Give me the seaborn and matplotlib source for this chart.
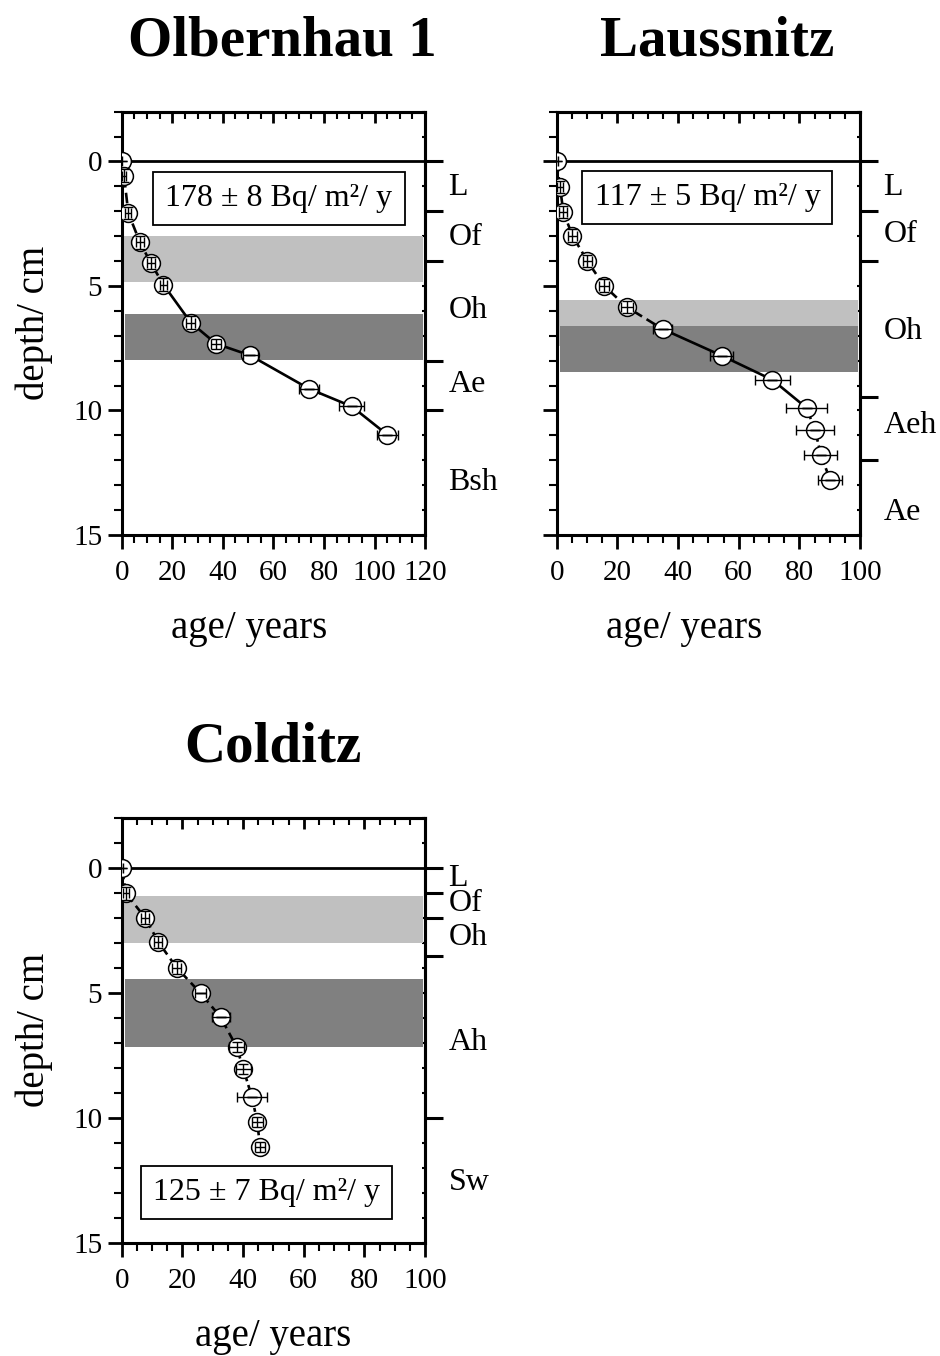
import matplotlib
matplotlib.use("Agg")
import matplotlib.pyplot as plt
from matplotlib.ticker import MultipleLocator, FixedLocator
import pandas as pd
import seaborn as sns


# Olbernhau 1
OLB_AGE = [0, 0.9, 2.6, 7.2, 11.5, 16.5, 27.3, 37.3, 50.8, 74.1, 91.0, 105.1]
OLB_DEPTH = [0, 0.57, 2.07, 3.25, 4.08, 4.95, 6.47, 7.32, 7.79, 9.13, 9.84, 10.98]
OLB_XERR = [0.3, 0.8, 1.2, 1.5, 1.5, 1.5, 1.8, 2.0, 3.0, 4.0, 5.0, 4.0]
OLB_YERR = [0, 0.25, 0.25, 0.25, 0.25, 0.25, 0.25, 0.2, 0, 0, 0, 0]
OLB_BOUNDS = [0, 2, 4, 8, 10]
OLB_HORIZONS = ["L", "Of", "Oh", "Ae", "Bsh"]
OLB_HOR_DEPTH = [1.06, 3.07, 6.0, 8.97, 12.9]
OLB_LIGHT = [3.0, 4.86]
OLB_DARK = [6.12, 7.96]

# Laussnitz
LAU_AGE = [0, 1.1, 2.2, 5.2, 10.1, 15.6, 23.1, 34.9, 54.4, 71.1, 82.4, 85.2, 87.1, 90.1]
LAU_DEPTH = [0, 1.03, 2.03, 2.98, 4.0, 4.99, 5.85, 6.73, 7.8, 8.77, 9.9, 10.8, 11.78, 12.78]
LAU_XERR = [0.3, 1.0, 1.3, 1.5, 1.5, 1.5, 2.0, 3.0, 3.8, 5.7, 6.7, 6.2, 5.4, 3.8]
LAU_YERR = [0, 0.25, 0.25, 0.25, 0.25, 0.25, 0.25, 0, 0, 0, 0, 0, 0, 0]
LAU_BOUNDS = [0, 2, 4, 9.45, 12]
LAU_HORIZONS = ["L", "Of", "Oh", "Aeh", "Ae"]
LAU_HOR_DEPTH = [1.06, 2.95, 6.85, 10.6, 14.1]
LAU_LIGHT = [5.55, 7.4]
LAU_DARK = [6.6, 8.47]

# Colditz
COL_AGE = [0, 1.4, 7.7, 12.1, 18.1, 26.0, 32.6, 37.9, 40.1, 42.9, 44.7, 45.6]
COL_DEPTH = [0, 1.03, 2.0, 2.98, 4.0, 5.02, 5.98, 7.18, 8.06, 9.16, 10.18, 11.18]
COL_XERR = [0.3, 1.0, 1.3, 1.3, 1.5, 1.8, 3.0, 2.4, 2.4, 5.0, 1.9, 1.6]
COL_YERR = [0, 0.25, 0.25, 0.25, 0.25, 0, 0, 0.2, 0.2, 0, 0.2, 0.2]
COL_BOUNDS = [0, 1.0, 2.03, 3.53, 10.0]
COL_HORIZONS = ["L", "Of", "Oh", "Ah", "Sw"]
COL_HOR_DEPTH = [0.42, 1.45, 2.8, 7.0, 12.6]
COL_LIGHT = [1.13, 3.0]
COL_DARK = [4.47, 7.19]

LIGHT = "#c0c0c0"
DARK = "#808080"


def draw_panel(ax, title, age, depth, xerr, yerr, xmax, bounds, horizons,
               hor_depth, light, dark, flux, flux_xy, segments, title_x,
               xlabel_x, show_depth=True):
    df = pd.DataFrame({"age": age, "depth": depth})

    ax.fill_between([xmax * 0.008, xmax * 0.992], light[0], light[1],
                    color=LIGHT, lw=0, zorder=1)
    ax.fill_between([xmax * 0.012, xmax * 0.992], dark[0], dark[1],
                    color=DARK, lw=0, zorder=1)
    ax.axhline(0, color="black", lw=2.0, zorder=2)

    for start, stop, style in segments:
        sns.lineplot(data=df.iloc[start:stop + 1], x="age", y="depth",
                     sort=False, estimator=None, color="black", lw=1.9,
                     linestyle=style, ax=ax, zorder=3)
    sns.scatterplot(data=df, x="age", y="depth", s=165, color="white",
                    edgecolor="black", linewidth=1.1, ax=ax, zorder=4)
    ax.errorbar(age, depth, xerr=xerr, yerr=yerr, fmt="none",
                ecolor="black", elinewidth=1.0, capsize=3.5, capthick=1.0,
                zorder=5)

    ax.text(flux_xy[0], flux_xy[1], flux, ha="center", va="center",
            fontsize=23, zorder=6,
            bbox=dict(boxstyle="square,pad=0.38", fc="white", ec="black",
                      lw=1.3))

    ax.set_xlim(0, xmax)
    ax.set_ylim(15, -2)
    ax.xaxis.set_major_locator(MultipleLocator(20))
    ax.xaxis.set_minor_locator(MultipleLocator(5))
    ax.yaxis.set_major_locator(FixedLocator([0, 5, 10, 15]))
    ax.yaxis.set_minor_locator(MultipleLocator(1))
    ax.tick_params(which="major", direction="out", length=10, width=2,
                   labelsize=21, pad=4, colors="black")
    ax.tick_params(axis="x", which="major", pad=8)
    ax.tick_params(which="minor", direction="out", length=6, width=1.5,
                   colors="black")
    if not show_depth:
        ax.tick_params(axis="y", labelleft=False)
    for side in ["top", "right", "bottom", "left"]:
        ax.spines[side].set_visible(True)
        ax.spines[side].set_linewidth(2.2)
        ax.spines[side].set_color("black")

    top = ax.secondary_xaxis("top")
    top.xaxis.set_major_locator(MultipleLocator(20))
    top.xaxis.set_minor_locator(MultipleLocator(5))
    top.tick_params(which="major", direction="in", length=8, width=2,
                    labeltop=False, colors="black")
    top.tick_params(which="minor", direction="in", length=5, width=1.5,
                    colors="black")
    top.spines["top"].set_linewidth(2.2)

    right = ax.secondary_yaxis("right")
    right.yaxis.set_major_locator(FixedLocator(bounds))
    right.yaxis.set_minor_locator(MultipleLocator(1))
    right.tick_params(which="major", direction="out", length=13, width=2.2,
                      labelright=False, colors="black")
    right.tick_params(which="minor", direction="in", length=2.5, width=1.5,
                      colors="black")
    right.spines["right"].set_linewidth(2.2)

    trans = ax.get_yaxis_transform()
    for name, d in zip(horizons, hor_depth):
        ax.text(1.077, d, name, transform=trans, ha="left", va="center",
                fontsize=23, color="black")

    ax.set_xlabel("age/ years", fontsize=28, va="center", color="black")
    ax.xaxis.set_label_coords(xlabel_x, -0.22)
    if show_depth:
        ax.set_ylabel("depth/ cm", fontsize=28, va="center", color="black")
        ax.yaxis.set_label_coords(-0.29, 0.5)
    else:
        ax.set_ylabel("")
    ax.text(title_x, 1.165, title, transform=ax.transAxes, ha="center",
            va="center", fontsize=41, fontweight="bold", color="black")


def main():
    sns.set_style("ticks")
    plt.rcParams["font.family"] = ["Liberation Serif", "DejaVu Serif"]
    plt.rcParams["text.color"] = "black"

    fig = plt.figure(figsize=(9.4, 13.56), dpi=100)
    ax1 = fig.add_axes([0.1295, 0.6055, 0.3227, 0.3122])
    ax2 = fig.add_axes([0.5922, 0.6055, 0.3227, 0.3122])
    ax3 = fig.add_axes([0.1295, 0.0836, 0.3227, 0.3134])

    draw_panel(ax1, "Olbernhau 1", OLB_AGE, OLB_DEPTH, OLB_XERR, OLB_YERR,
               120, OLB_BOUNDS, OLB_HORIZONS, OLB_HOR_DEPTH, OLB_LIGHT,
               OLB_DARK, "178 \u00b1 8 Bq/ m\u00b2/ y", (62.2, 1.5),
               [(0, 5, (0, (4, 2))), (5, 11, "-")], 0.53, 0.42)
    draw_panel(ax2, "Laussnitz", LAU_AGE, LAU_DEPTH, LAU_XERR, LAU_YERR,
               100, LAU_BOUNDS, LAU_HORIZONS, LAU_HOR_DEPTH, LAU_LIGHT,
               LAU_DARK, "117 \u00b1 5 Bq/ m\u00b2/ y", (49.7, 1.46),
               [(0, 7, (0, (4, 2))), (7, 10, "-"), (10, 13, (0, (1.5, 1.5)))],
               0.53, 0.42, show_depth=False)
    draw_panel(ax3, "Colditz", COL_AGE, COL_DEPTH, COL_XERR, COL_YERR,
               100, COL_BOUNDS, COL_HORIZONS, COL_HOR_DEPTH, COL_LIGHT,
               COL_DARK, "125 \u00b1 7 Bq/ m\u00b2/ y", (47.7, 13.0),
               [(0, 1, (0, (1.5, 1.5))), (1, 7, (0, (4, 2))),
                (7, 11, (0, (1.5, 1.5)))],
               0.5, 0.5)

    fig.savefig("out.png", dpi=100)


if __name__ == "__main__":
    main()
